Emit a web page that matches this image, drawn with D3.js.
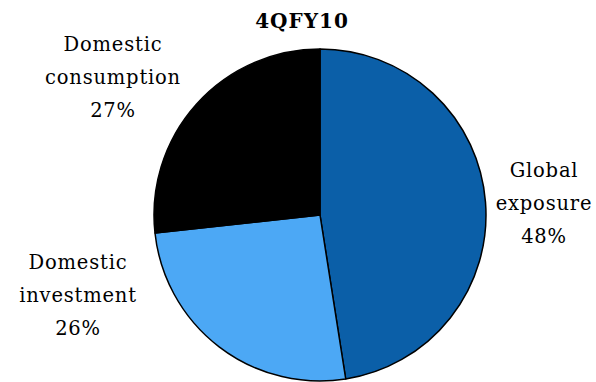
<!DOCTYPE html>
<html>
<head>
<meta charset="utf-8">
<script src="https://cdn.jsdelivr.net/npm/d3@7"></script>
<style>
  html, body { margin: 0; padding: 0; background: #fff; }
  svg { display: block; }
  text { font-family: "DejaVu Serif", serif; fill: #000; }
</style>
</head>
<body>
<svg id="chart" width="596" height="382"></svg>
<script>
// Share of the portfolio by exposure, 4QFY10
const title = "4QFY10";
const categories = ["Global exposure", "Domestic investment", "Domestic consumption"];
const labelLines = [["Global", "exposure"], ["Domestic", "investment"], ["Domestic", "consumption"]];
const values = [48, 26, 27];
const colors = ["#0b5fa8", "#4ca8f5", "#000000"];

const W = 596, H = 382;
const cx = 320, cy = 215, radius = 166;
const lineGap = 33;
// label block anchors (first-line baseline), relative to the pie centre
const labelAnchors = [[224, -38], [-242, 54], [-207, -164]];

const svg = d3.select("#chart");

svg.append("text")
  .attr("x", 302).attr("y", 28)
  .attr("text-anchor", "middle")
  .attr("font-size", 20).attr("font-weight", "bold")
  .attr("letter-spacing", 1)
  .text(title);

const pie = d3.pie().sort(null).value(d => d)
  .startAngle(0).endAngle(2 * Math.PI);
const arc = d3.arc().innerRadius(0).outerRadius(radius);
const arcs = pie(values);

const g = svg.append("g").attr("transform", `translate(${cx},${cy})`);

g.selectAll("path.slice")
  .data(arcs)
  .join("path")
  .attr("class", "slice")
  .attr("d", arc)
  .attr("fill", (d, i) => colors[i])
  .attr("stroke", "#000")
  .attr("stroke-width", 1.5)
  .attr("stroke-linejoin", "round");

const fmt = d => `${d}%`;

const labels = g.selectAll("text.lbl")
  .data(arcs)
  .join("text")
  .attr("class", "lbl")
  .attr("text-anchor", "middle")
  .attr("font-size", 19.5)
  .attr("letter-spacing", 0.8)
  .attr("transform", (d, i) => `translate(${labelAnchors[i][0]},${labelAnchors[i][1]})`);

labels.each(function (d, i) {
  const t = d3.select(this);
  const lines = labelLines[i].concat([fmt(values[i])]);
  lines.forEach((ln, k) => {
    t.append("tspan").attr("x", 0).attr("y", k * lineGap).text(ln);
  });
});
</script>
</body>
</html>
